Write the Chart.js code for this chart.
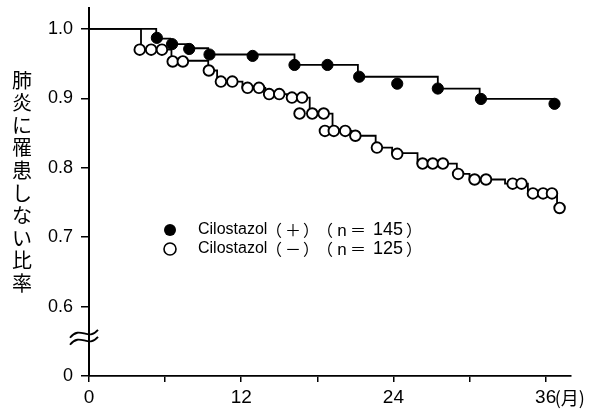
<!DOCTYPE html>
<html>
<head>
<meta charset="utf-8">
<script src="https://cdn.jsdelivr.net/npm/chart.js@4/dist/chart.umd.min.js"></script>
<style>
  html, body { margin: 0; padding: 0; background: #fff; }
  #wrap { width: 606px; height: 414px; }
</style>
</head>
<body>
<div id="wrap"><canvas id="grafica" width="606" height="414"></canvas></div>
<script>
// Cilostazol (+) : curva escalonada y marcas
const plusStepMonths = [0, 5.3, 6.4, 7.8, 9.4, 16.2, 21.2, 27.5, 30.8, 36.7];
const plusStepRates  = [1.0, 0.986, 0.978, 0.972, 0.963, 0.948, 0.931, 0.914, 0.899, 0.899];
const plusMarkMonths = [5.35, 6.55, 7.9, 9.5, 12.9, 16.2, 18.8, 21.3, 24.3, 27.5, 30.9, 36.7];
const plusMarkRates  = [0.987, 0.978, 0.971, 0.963, 0.961, 0.948, 0.948, 0.931, 0.921, 0.914, 0.899, 0.892];

// Cilostazol (-)
const minusStepMonths = [0, 4.1, 6.5, 9.4, 10.1, 12.1, 13.9, 15.6, 17.4, 19.2, 20.7, 22.6, 23.9, 25.9, 29.0, 30.0, 32.8, 34.6, 36.9, 37.1];
const minusStepRates  = [1.0, 0.970, 0.954, 0.940, 0.924, 0.915, 0.906, 0.901, 0.878, 0.853, 0.846, 0.829, 0.821, 0.806, 0.791, 0.783, 0.777, 0.763, 0.742, 0.742];
const minusMarkMonths = [4.0, 4.9, 5.75, 6.6, 7.4, 9.45, 10.4, 11.3, 12.5, 13.4, 14.2, 15.0, 16.0, 16.8,
                         16.6, 17.6, 18.5, 18.6, 19.3, 20.2, 21.0, 22.7, 24.3, 26.3, 27.1, 27.9, 29.1,
                         30.4, 31.3, 33.4, 34.1, 35.0, 35.8, 36.5, 37.1];
const minusMarkRates  = [0.970, 0.970, 0.970, 0.953, 0.953, 0.940, 0.924, 0.924, 0.915, 0.915, 0.906, 0.906, 0.901, 0.901,
                         0.878, 0.878, 0.878, 0.853, 0.853, 0.853, 0.846, 0.829, 0.820, 0.806, 0.806, 0.806, 0.791,
                         0.783, 0.783, 0.777, 0.777, 0.763, 0.763, 0.763, 0.742];

const xTicks = [0, 6, 12, 18, 24, 30, 36];
const yTicks = [0.5, 0.6, 0.7, 0.8, 0.9, 1.0];
const yTitulo = "肺炎に罹患しない比率";
const grupos = ["＋", "－"];
const nCasos = ["145", "125"];

const fuente = "'Liberation Sans', Arial, sans-serif";
const fuenteJp = "'Noto Sans CJK JP'";

function puntos(xs, ys) {
    return xs.map((x, i) => ({ x: x, y: ys[i] }));
}

const extras = {
    id: 'extras',
    afterDraw(chart) {
        const ctx = chart.ctx;
        const sx = chart.scales.x;
        const sy = chart.scales.y;
        ctx.save();
        ctx.fillStyle = '#000';
        ctx.strokeStyle = '#000';

        // titulo vertical
        ctx.font = "20px " + fuenteJp;
        ctx.textAlign = 'center';
        ctx.textBaseline = 'middle';
        for (let i = 0; i < yTitulo.length; i++) {
            ctx.fillText(yTitulo[i], 22, 80 + i * 22.6);
        }

        // (月)
        ctx.font = "18px " + fuenteJp;
        ctx.textAlign = 'left';
        ctx.fillText("(月)", sx.getPixelForValue(36) + 9, 398);

        // corte del eje
        const ax = sx.left;
        const by = sy.getPixelForValue(0.555);
        ctx.lineWidth = 1.8;
        [-4, 3].forEach(d => {
            ctx.beginPath();
            ctx.moveTo(ax - 19, by + d + 4);
            ctx.bezierCurveTo(ax - 9, by + d - 9, ax - 1, by + d + 8, ax + 9, by + d - 4);
            ctx.stroke();
        });

        // leyenda
        const filas = [230, 249];
        filas.forEach((fy, i) => {
            ctx.beginPath();
            ctx.arc(170, fy, 6, 0, Math.PI * 2);
            if (i === 0) {
                ctx.fill();
            } else {
                ctx.fillStyle = '#fff';
                ctx.fill();
                ctx.lineWidth = 1.6;
                ctx.stroke();
                ctx.fillStyle = '#000';
            }
            ctx.textBaseline = 'middle';
            ctx.textAlign = 'left';
            ctx.font = "16px " + fuente;
            ctx.fillText("Cilostazol", 198, fy);
            ctx.textAlign = 'center';
            ctx.font = "16px " + fuenteJp;
            ctx.fillText("（", 274, fy);
            ctx.fillText(grupos[i], 293, fy);
            ctx.fillText("）", 311, fy);
            ctx.fillText("（", 325, fy);
            ctx.fillText("＝", 358, fy);
            ctx.fillText("）", 414, fy);
            ctx.font = "17px " + fuente;
            ctx.fillText("n", 342, fy + 1);
            ctx.font = "18px " + fuente;
            ctx.fillText(nCasos[i], 388, fy);
        });
        ctx.restore();
    }
};

new Chart(document.getElementById('grafica'), {
    type: 'line',
    data: {
        datasets: [
            {
                label: 'Cilostazol (+)',
                data: puntos(plusStepMonths, plusStepRates),
                stepped: 'before',
                borderColor: '#000',
                borderWidth: 1.8,
                pointRadius: 0,
                fill: false,
                order: 3
            },
            {
                label: 'Cilostazol (-)',
                data: puntos(minusStepMonths, minusStepRates),
                stepped: 'before',
                borderColor: '#000',
                borderWidth: 1.8,
                pointRadius: 0,
                fill: false,
                order: 3
            },
            {
                type: 'scatter',
                label: 'marcas (-)',
                data: puntos(minusMarkMonths, minusMarkRates),
                pointRadius: 5.3,
                pointBackgroundColor: '#fff',
                pointBorderColor: '#000',
                pointBorderWidth: 1.9,
                showLine: false,
                order: 2
            },
            {
                type: 'scatter',
                label: 'marcas (+)',
                data: puntos(plusMarkMonths, plusMarkRates),
                pointRadius: 5.6,
                pointBackgroundColor: '#000',
                pointBorderColor: '#000',
                pointBorderWidth: 1,
                showLine: false,
                order: 1
            }
        ]
    },
    options: {
        responsive: false,
        animation: false,
        layout: { padding: { left: 0, right: 35, top: 8, bottom: 0 } },
        plugins: {
            legend: { display: false },
            tooltip: { enabled: false }
        },
        scales: {
            x: {
                type: 'linear',
                min: 0,
                max: 38,
                afterFit: s => { s.height = 38; s.paddingLeft = 0; s.paddingRight = 0; },
                afterBuildTicks: s => { s.ticks = xTicks.map(v => ({ value: v })); },
                border: { display: true, color: '#000', width: 1.8 },
                grid: { drawOnChartArea: false, drawTicks: true, tickLength: 6, color: '#000', lineWidth: 1.5 },
                ticks: {
                    color: '#000',
                    padding: 4,
                    maxRotation: 0,
                    font: { family: fuente, size: 19 },
                    callback: v => (v % 12 === 0 ? String(v) : '')
                }
            },
            y: {
                type: 'linear',
                min: 0.5,
                max: 1.03,
                afterFit: s => { s.width = 89; s.paddingTop = 0; s.paddingBottom = 0; },
                afterBuildTicks: s => { s.ticks = yTicks.map(v => ({ value: v })); },
                border: { display: true, color: '#000', width: 2 },
                grid: { drawOnChartArea: false, drawTicks: true, tickLength: 8, color: '#000', lineWidth: 1.5 },
                ticks: {
                    color: '#000',
                    padding: 8,
                    font: { family: fuente, size: 18 },
                    callback: v => (v === 0.5 ? '0' : v.toFixed(1))
                }
            }
        }
    },
    plugins: [extras]
});
</script>
</body>
</html>
